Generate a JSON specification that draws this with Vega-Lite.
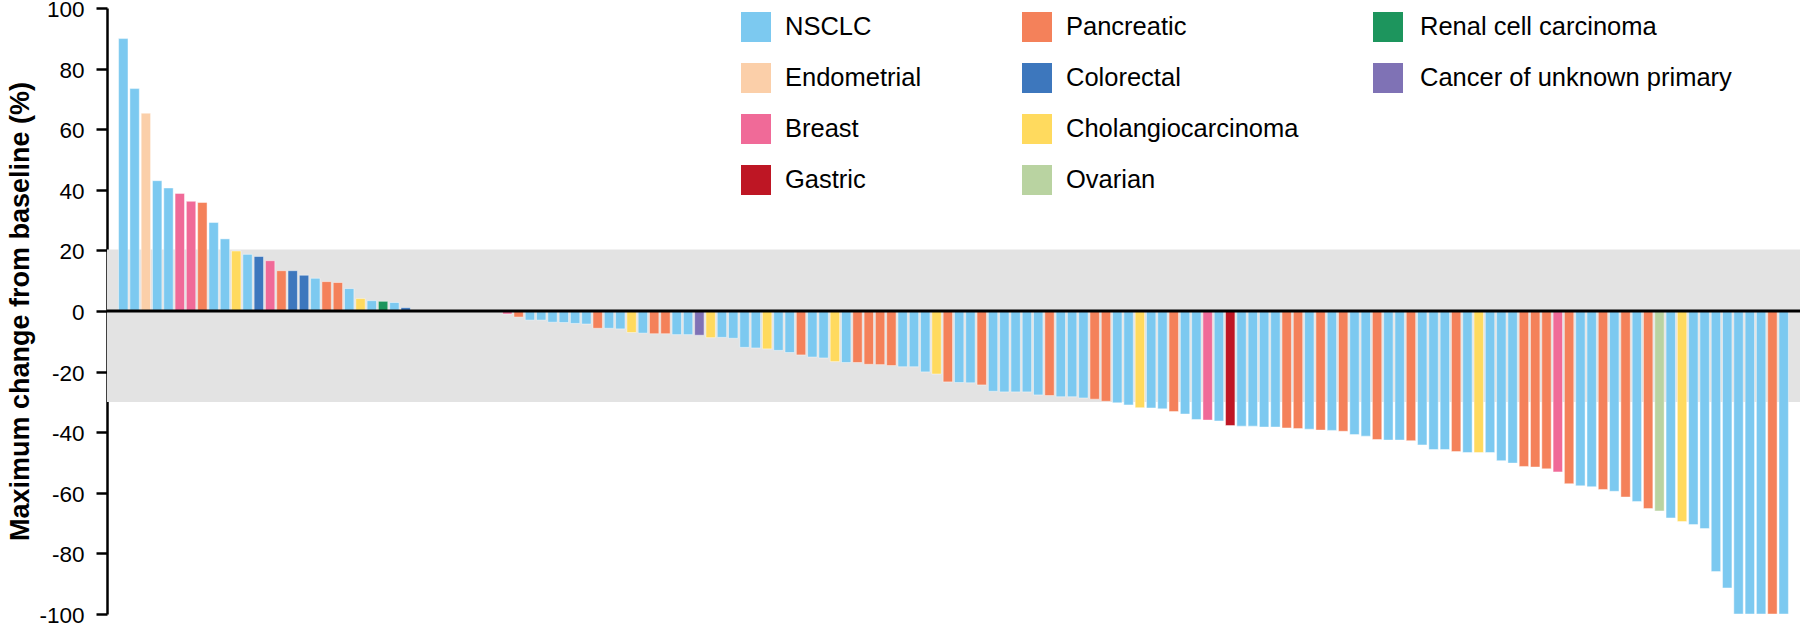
{
  "$schema": "https://vega.github.io/schema/vega-lite/v6.json",
  "width": 1693,
  "height": 606,
  "autosize": {"type": "none"},
  "padding": {"left": 107, "top": 8, "right": 0, "bottom": 11},
  "background": "white",
  "config": {
    "view": {"stroke": null},
    "axisY": {
      "domainColor": "black", "domainWidth": 2.5, "tickColor": "black", "tickWidth": 2.5, "tickSize": 11,
      "labelFont": "Liberation Sans", "labelFontSize": 22.5, "labelColor": "black", "labelPadding": 12,
      "labelOffset": 1.5, "labelExpr": "'' + datum.value",
      "titleFont": "Liberation Sans", "titleFontSize": 27, "titleFontWeight": "bold", "titleColor": "black",
      "titlePadding": 4, "grid": false
    },
    "legend": {
      "orient": "none", "direction": "vertical", "symbolType": "square", "symbolSize": 900,
      "symbolStrokeWidth": 0, "symbolOpacity": 1, "labelFont": "Liberation Sans", "labelFontSize": 25.5,
      "labelColor": "black", "labelLimit": 600, "rowPadding": 21, "padding": 0, "offset": 0
    }
  },
  "data": {"values": [
    {"id": 1, "type": "NSCLC", "value": 89.9},
    {"id": 2, "type": "NSCLC", "value": 73.4},
    {"id": 3, "type": "Endometrial", "value": 65.3},
    {"id": 4, "type": "NSCLC", "value": 43.0},
    {"id": 5, "type": "NSCLC", "value": 40.6},
    {"id": 6, "type": "Breast", "value": 38.8},
    {"id": 7, "type": "Breast", "value": 36.2},
    {"id": 8, "type": "Pancreatic", "value": 35.8},
    {"id": 9, "type": "NSCLC", "value": 29.2},
    {"id": 10, "type": "NSCLC", "value": 23.8},
    {"id": 11, "type": "Cholangiocarcinoma", "value": 19.8},
    {"id": 12, "type": "NSCLC", "value": 18.7},
    {"id": 13, "type": "Colorectal", "value": 18.0},
    {"id": 14, "type": "Breast", "value": 16.6},
    {"id": 15, "type": "Pancreatic", "value": 13.3},
    {"id": 16, "type": "Colorectal", "value": 13.3},
    {"id": 17, "type": "Colorectal", "value": 11.8},
    {"id": 18, "type": "NSCLC", "value": 10.8},
    {"id": 19, "type": "Pancreatic", "value": 9.7},
    {"id": 20, "type": "Pancreatic", "value": 9.4},
    {"id": 21, "type": "NSCLC", "value": 7.4},
    {"id": 22, "type": "Cholangiocarcinoma", "value": 4.1},
    {"id": 23, "type": "NSCLC", "value": 3.4},
    {"id": 24, "type": "Renal cell carcinoma", "value": 3.2},
    {"id": 25, "type": "NSCLC", "value": 2.8},
    {"id": 26, "type": "Colorectal", "value": 1.1},
    {"id": 35, "type": "Breast", "value": -1.0},
    {"id": 36, "type": "Pancreatic", "value": -2.0},
    {"id": 37, "type": "NSCLC", "value": -3.0},
    {"id": 38, "type": "NSCLC", "value": -3.0},
    {"id": 39, "type": "NSCLC", "value": -3.7},
    {"id": 40, "type": "NSCLC", "value": -3.8},
    {"id": 41, "type": "NSCLC", "value": -4.1},
    {"id": 42, "type": "NSCLC", "value": -4.3},
    {"id": 43, "type": "Pancreatic", "value": -5.7},
    {"id": 44, "type": "NSCLC", "value": -5.7},
    {"id": 45, "type": "NSCLC", "value": -5.9},
    {"id": 46, "type": "Cholangiocarcinoma", "value": -7.1},
    {"id": 47, "type": "NSCLC", "value": -7.3},
    {"id": 48, "type": "Pancreatic", "value": -7.5},
    {"id": 49, "type": "Pancreatic", "value": -7.5},
    {"id": 50, "type": "NSCLC", "value": -7.8},
    {"id": 51, "type": "NSCLC", "value": -7.8},
    {"id": 52, "type": "Cancer of unknown primary", "value": -8.0},
    {"id": 53, "type": "Cholangiocarcinoma", "value": -8.8},
    {"id": 54, "type": "NSCLC", "value": -8.7},
    {"id": 55, "type": "NSCLC", "value": -9.0},
    {"id": 56, "type": "NSCLC", "value": -12.0},
    {"id": 57, "type": "NSCLC", "value": -12.2},
    {"id": 58, "type": "Cholangiocarcinoma", "value": -12.5},
    {"id": 59, "type": "NSCLC", "value": -13.0},
    {"id": 60, "type": "NSCLC", "value": -13.7},
    {"id": 61, "type": "Pancreatic", "value": -14.5},
    {"id": 62, "type": "NSCLC", "value": -15.2},
    {"id": 63, "type": "NSCLC", "value": -15.5},
    {"id": 64, "type": "Cholangiocarcinoma", "value": -16.7},
    {"id": 65, "type": "NSCLC", "value": -17.0},
    {"id": 66, "type": "Pancreatic", "value": -17.0},
    {"id": 67, "type": "Pancreatic", "value": -17.6},
    {"id": 68, "type": "Pancreatic", "value": -17.7},
    {"id": 69, "type": "Pancreatic", "value": -18.0},
    {"id": 70, "type": "NSCLC", "value": -18.4},
    {"id": 71, "type": "NSCLC", "value": -18.4},
    {"id": 72, "type": "NSCLC", "value": -20.1},
    {"id": 73, "type": "Cholangiocarcinoma", "value": -20.8},
    {"id": 74, "type": "Pancreatic", "value": -23.4},
    {"id": 75, "type": "NSCLC", "value": -23.6},
    {"id": 76, "type": "NSCLC", "value": -23.7},
    {"id": 77, "type": "Pancreatic", "value": -24.4},
    {"id": 78, "type": "NSCLC", "value": -26.5},
    {"id": 79, "type": "NSCLC", "value": -26.7},
    {"id": 80, "type": "NSCLC", "value": -26.7},
    {"id": 81, "type": "NSCLC", "value": -26.7},
    {"id": 82, "type": "NSCLC", "value": -27.7},
    {"id": 83, "type": "Pancreatic", "value": -27.9},
    {"id": 84, "type": "NSCLC", "value": -28.3},
    {"id": 85, "type": "NSCLC", "value": -28.3},
    {"id": 86, "type": "NSCLC", "value": -28.7},
    {"id": 87, "type": "Pancreatic", "value": -29.1},
    {"id": 88, "type": "Pancreatic", "value": -29.8},
    {"id": 89, "type": "NSCLC", "value": -30.3},
    {"id": 90, "type": "NSCLC", "value": -31.0},
    {"id": 91, "type": "Cholangiocarcinoma", "value": -31.9},
    {"id": 92, "type": "NSCLC", "value": -32.0},
    {"id": 93, "type": "NSCLC", "value": -32.3},
    {"id": 94, "type": "Pancreatic", "value": -33.2},
    {"id": 95, "type": "NSCLC", "value": -34.0},
    {"id": 96, "type": "NSCLC", "value": -35.8},
    {"id": 97, "type": "Breast", "value": -36.0},
    {"id": 98, "type": "NSCLC", "value": -36.3},
    {"id": 99, "type": "Gastric", "value": -37.8},
    {"id": 100, "type": "NSCLC", "value": -38.0},
    {"id": 101, "type": "NSCLC", "value": -38.0},
    {"id": 102, "type": "NSCLC", "value": -38.3},
    {"id": 103, "type": "NSCLC", "value": -38.3},
    {"id": 104, "type": "Pancreatic", "value": -38.6},
    {"id": 105, "type": "Pancreatic", "value": -38.8},
    {"id": 106, "type": "NSCLC", "value": -39.0},
    {"id": 107, "type": "Pancreatic", "value": -39.3},
    {"id": 108, "type": "NSCLC", "value": -39.4},
    {"id": 109, "type": "Pancreatic", "value": -39.7},
    {"id": 110, "type": "NSCLC", "value": -40.8},
    {"id": 111, "type": "NSCLC", "value": -41.3},
    {"id": 112, "type": "Pancreatic", "value": -42.4},
    {"id": 113, "type": "NSCLC", "value": -42.6},
    {"id": 114, "type": "NSCLC", "value": -42.6},
    {"id": 115, "type": "Pancreatic", "value": -42.8},
    {"id": 116, "type": "NSCLC", "value": -44.2},
    {"id": 117, "type": "NSCLC", "value": -45.7},
    {"id": 118, "type": "NSCLC", "value": -45.7},
    {"id": 119, "type": "Pancreatic", "value": -46.4},
    {"id": 120, "type": "NSCLC", "value": -46.7},
    {"id": 121, "type": "Cholangiocarcinoma", "value": -46.7},
    {"id": 122, "type": "NSCLC", "value": -46.7},
    {"id": 123, "type": "NSCLC", "value": -49.4},
    {"id": 124, "type": "NSCLC", "value": -50.2},
    {"id": 125, "type": "Pancreatic", "value": -51.3},
    {"id": 126, "type": "Pancreatic", "value": -51.5},
    {"id": 127, "type": "Pancreatic", "value": -52.1},
    {"id": 128, "type": "Breast", "value": -53.1},
    {"id": 129, "type": "Pancreatic", "value": -57.0},
    {"id": 130, "type": "NSCLC", "value": -57.7},
    {"id": 131, "type": "NSCLC", "value": -58.0},
    {"id": 132, "type": "Pancreatic", "value": -58.9},
    {"id": 133, "type": "NSCLC", "value": -59.5},
    {"id": 134, "type": "Pancreatic", "value": -61.4},
    {"id": 135, "type": "NSCLC", "value": -62.9},
    {"id": 136, "type": "Pancreatic", "value": -65.2},
    {"id": 137, "type": "Ovarian", "value": -66.0},
    {"id": 138, "type": "NSCLC", "value": -68.3},
    {"id": 139, "type": "Cholangiocarcinoma", "value": -69.5},
    {"id": 140, "type": "NSCLC", "value": -70.5},
    {"id": 141, "type": "NSCLC", "value": -71.8},
    {"id": 142, "type": "NSCLC", "value": -86.0},
    {"id": 143, "type": "NSCLC", "value": -91.4},
    {"id": 144, "type": "NSCLC", "value": -100},
    {"id": 145, "type": "NSCLC", "value": -100},
    {"id": 146, "type": "NSCLC", "value": -100},
    {"id": 147, "type": "Pancreatic", "value": -100},
    {"id": 148, "type": "NSCLC", "value": -100}
  ]},
  "layer": [
    {
      "data": {"values": [{"band": "stable"}]},
      "mark": {"type": "rect", "color": "#e3e3e3"},
      "encoding": {
        "y": {"datum": -30, "type": "quantitative", "scale": {"domain": [-100, 100], "nice": false}, "title": "Maximum change from baseline (%)", "axis": {"values": [-100, -80, -60, -40, -20, 0, 20, 40, 60, 80, 100]}},
        "y2": {"datum": 20.3}
      }
    },
    {
      "transform": [{"filter": {"field": "type", "oneOf": ["NSCLC", "Endometrial", "Breast", "Gastric"]}}],
      "mark": {"type": "bar", "width": 9.4, "stroke": "white", "strokeOpacity": 0.45, "strokeWidth": 1},
      "encoding": {
        "x": {"field": "id", "type": "quantitative", "scale": {"domain": [0, 149], "nice": false, "zero": false}, "axis": null},
        "y": {"field": "value", "type": "quantitative", "title": "Maximum change from baseline (%)", "axis": {"values": [-100, -80, -60, -40, -20, 0, 20, 40, 60, 80, 100]}},
        "fill": {"field": "type", "type": "nominal", "sort": ["NSCLC", "Endometrial", "Breast", "Gastric"],
          "scale": {"domain": ["NSCLC", "Endometrial", "Breast", "Gastric"], "range": ["#7cc9f0", "#fbcfa9", "#f06a98", "#be1624"]},
          "legend": {"title": null, "legendX": 634, "legendY": 4, "labelOffset": 14}}
      }
    },
    {
      "transform": [{"filter": {"field": "type", "oneOf": ["Pancreatic", "Colorectal", "Cholangiocarcinoma", "Ovarian"]}}],
      "mark": {"type": "bar", "width": 9.4, "stroke": "white", "strokeOpacity": 0.45, "strokeWidth": 1},
      "encoding": {
        "x": {"field": "id", "type": "quantitative", "scale": {"domain": [0, 149], "nice": false, "zero": false}, "axis": null},
        "y": {"field": "value", "type": "quantitative", "title": "Maximum change from baseline (%)", "axis": {"values": [-100, -80, -60, -40, -20, 0, 20, 40, 60, 80, 100]}},
        "fill": {"field": "type", "type": "nominal", "sort": ["Pancreatic", "Colorectal", "Cholangiocarcinoma", "Ovarian"],
          "scale": {"domain": ["Pancreatic", "Colorectal", "Cholangiocarcinoma", "Ovarian"], "range": ["#f4815a", "#3d77bd", "#ffda5e", "#b9d3a1"]},
          "legend": {"title": null, "legendX": 915, "legendY": 4, "labelOffset": 14}}
      }
    },
    {
      "transform": [{"filter": {"field": "type", "oneOf": ["Renal cell carcinoma", "Cancer of unknown primary"]}}],
      "mark": {"type": "bar", "width": 9.4, "stroke": "white", "strokeOpacity": 0.45, "strokeWidth": 1},
      "encoding": {
        "x": {"field": "id", "type": "quantitative", "scale": {"domain": [0, 149], "nice": false, "zero": false}, "axis": null},
        "y": {"field": "value", "type": "quantitative", "title": "Maximum change from baseline (%)", "axis": {"values": [-100, -80, -60, -40, -20, 0, 20, 40, 60, 80, 100]}},
        "fill": {"field": "type", "type": "nominal", "sort": ["Renal cell carcinoma", "Cancer of unknown primary"],
          "scale": {"domain": ["Renal cell carcinoma", "Cancer of unknown primary"], "range": ["#1d955d", "#7f72b5"]},
          "legend": {"title": null, "legendX": 1266, "legendY": 4, "labelOffset": 17}}
      }
    },
    {
      "data": {"values": [{"line": "zero"}]},
      "mark": {"type": "rule", "color": "black", "strokeWidth": 3},
      "encoding": {
        "y": {"datum": 0, "type": "quantitative", "title": "Maximum change from baseline (%)", "axis": {"values": [-100, -80, -60, -40, -20, 0, 20, 40, 60, 80, 100]}}
      }
    }
  ],
  "resolve": {"scale": {"fill": "independent"}, "legend": {"fill": "independent"}}
}
